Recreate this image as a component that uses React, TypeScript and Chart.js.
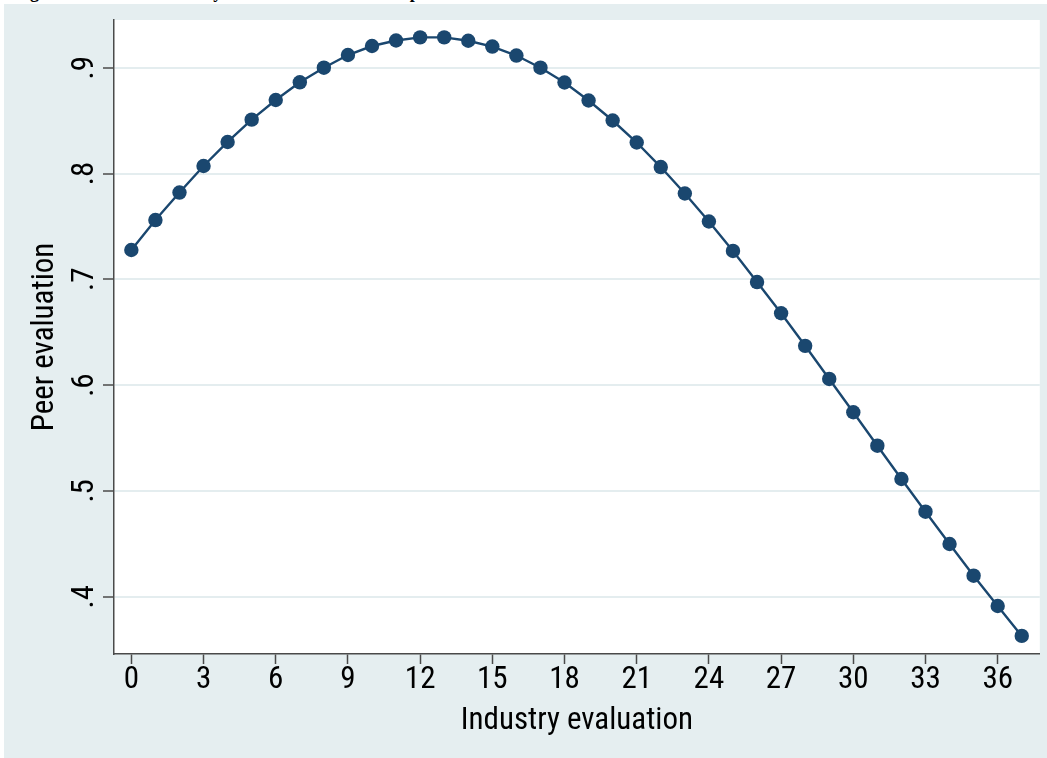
import React, { useEffect, useRef } from 'react';
import { Chart, registerables } from 'chart.js';

Chart.register(...registerables);

// ---- data ----
const industryEvaluation = [
  0, 1, 2, 3, 4, 5, 6, 7, 8, 9, 10, 11, 12, 13, 14, 15, 16, 17, 18,
  19, 20, 21, 22, 23, 24, 25, 26, 27, 28, 29, 30, 31, 32, 33, 34, 35, 36, 37,
];
const peerEvaluation = [
  0.7277, 0.756, 0.782, 0.8071, 0.8298, 0.8509, 0.8695, 0.8862, 0.9, 0.912,
  0.9205, 0.9257, 0.9287, 0.9287, 0.9255, 0.92, 0.9115, 0.9, 0.886, 0.869,
  0.8501, 0.8293, 0.8061, 0.7811, 0.7546, 0.7268, 0.6974, 0.6679, 0.6371, 0.6058,
  0.5743, 0.5427, 0.5112, 0.4803, 0.4498, 0.4198, 0.3912, 0.3629,
];
const xTickValues = [0, 3, 6, 9, 12, 15, 18, 21, 24, 27, 30, 33, 36];
const yTickValues = [0.4, 0.5, 0.6, 0.7, 0.8, 0.9];
const yTickLabels = ['.4', '.5', '.6', '.7', '.8', '.9'];
const xTitle = 'Industry evaluation';
const yTitle = 'Peer evaluation';
const figureCaption = 'Figure 3. Effect of industry evaluation on the mean peer evaluation';

const FONT = '"Roboto Condensed", "DejaVu Sans Condensed", sans-serif';
const BG = '#e5eef0';
const GRID = '#e4edef';
const AXIS = '#4a4a4a';
const NAVY = '#1a476f';

const plotBackground = {
  id: 'plotBackground',
  beforeDraw(chart: any) {
    const { ctx, chartArea } = chart;
    ctx.save();
    ctx.fillStyle = '#ffffff';
    ctx.fillRect(chartArea.left, chartArea.top, chartArea.right - chartArea.left, chartArea.bottom - chartArea.top);
    ctx.restore();
  },
};

export default function App() {
  const canvasRef = useRef<HTMLCanvasElement | null>(null);

  useEffect(() => {
    if (!canvasRef.current) return;
    const chart = new Chart(canvasRef.current, {
      type: 'line',
      data: {
        datasets: [
          {
            data: industryEvaluation.map((x, i) => ({ x, y: peerEvaluation[i] })),
            borderColor: NAVY,
            borderWidth: 2.4,
            backgroundColor: NAVY,
            pointBackgroundColor: NAVY,
            pointBorderWidth: 0,
            pointRadius: 7.2,
            tension: 0,
            fill: false,
          },
        ],
      },
      options: {
        animation: false,
        responsive: false,
        layout: { padding: { left: 0, top: 16, right: 5, bottom: 0 } },
        plugins: {
          legend: { display: false },
          tooltip: { enabled: false },
          title: { display: false },
        },
        scales: {
          x: {
            type: 'linear',
            min: -0.721,
            max: 37.75,
            afterBuildTicks: (scale: any) => {
              scale.ticks = xTickValues.map((v) => ({ value: v }));
            },
            afterFit: (scale: any) => {
              scale.height = 104;
              scale.paddingLeft = 0;
              scale.paddingRight = 0;
            },
            grid: {
              drawOnChartArea: false,
              drawTicks: true,
              tickLength: 10,
              tickColor: AXIS,
              tickWidth: 1.5,
            },
            border: { display: true, color: AXIS, width: 1.5 },
            ticks: {
              color: '#000',
              padding: 1,
              maxRotation: 0,
              minRotation: 0,
              autoSkip: false,
              font: { family: FONT, size: 31, lineHeight: 1 },
            },
            title: {
              display: true,
              text: xTitle,
              color: '#000',
              font: { family: FONT, size: 31, lineHeight: 1 },
              padding: { top: 0, bottom: 21 },
            },
          },
          y: {
            type: 'linear',
            min: 0.3458,
            max: 0.9451,
            afterBuildTicks: (scale: any) => {
              scale.ticks = yTickValues.map((v) => ({ value: v }));
            },
            afterFit: (scale: any) => {
              scale.width = 110;
              scale.paddingTop = 0;
              scale.paddingBottom = 0;
            },
            grid: {
              drawOnChartArea: true,
              color: GRID,
              lineWidth: 2,
              drawTicks: true,
              tickLength: 11,
              tickColor: AXIS,
              tickWidth: 1.5,
            },
            border: { display: true, color: AXIS, width: 1.5 },
            ticks: {
              color: '#000',
              padding: 6,
              minRotation: 90,
              maxRotation: 90,
              crossAlign: 'center',
              autoSkip: false,
              font: { family: FONT, size: 31, lineHeight: 1 },
              callback: (value: any) => {
                const idx = yTickValues.findIndex((v) => Math.abs(v - Number(value)) < 1e-6);
                return idx >= 0 ? yTickLabels[idx] : '';
              },
            },
            title: {
              display: true,
              text: yTitle,
              color: '#000',
              font: { family: FONT, size: 31, lineHeight: 1 },
              padding: { top: 26, bottom: 0 },
            },
          },
        },
      } as any,
      plugins: [plotBackground],
    });
    return () => chart.destroy();
  }, []);

  return (
    <div style={{ position: 'fixed', left: 0, top: 0, width: 1047, height: 758, background: '#ffffff', overflow: 'hidden' }}>
      <div style={{ position: 'absolute', left: 0, top: 0, width: 1047, height: 4, overflow: 'hidden' }}>
        <div
          style={{
            position: 'absolute',
            left: 14,
            top: -17,
            fontFamily: '"Liberation Serif", "Times New Roman", serif',
            fontWeight: 'bold',
            fontSize: 18,
            lineHeight: '18px',
            whiteSpace: 'nowrap',
            color: '#000',
          }}
        >
          {figureCaption}
        </div>
      </div>
      <div style={{ position: 'absolute', left: 4, top: 4, width: 1043, height: 754, background: BG }}>
        <canvas ref={canvasRef} width={1043} height={754} style={{ display: 'block', width: 1043, height: 754 }} />
      </div>
    </div>
  );
}
